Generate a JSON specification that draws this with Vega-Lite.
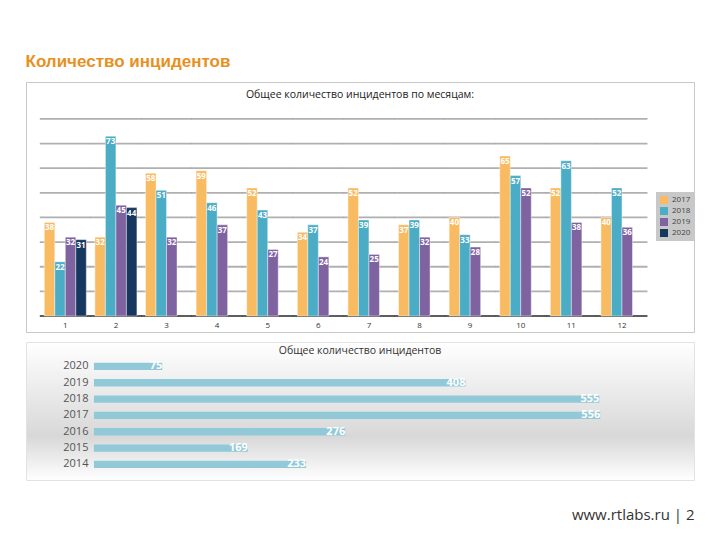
{
  "$schema": "https://vega.github.io/schema/vega-lite/v6.json",
  "background": "white",
  "padding": {"left": 25, "top": 52, "right": 20, "bottom": 5},
  "autosize": {"type": "pad"},
  "title": {"text": "Количество инцидентов", "anchor": "start", "frame": "bounds", "color": "#E8901E", "fontSize": 17, "fontWeight": "bold", "font": "Liberation Sans", "offset": 11},
  "config": {"font": "Open Sans", "view": {"stroke": "#C8C8C8"}},
  "spacing": 8,
  "datasets": {
    "monthly": [
      {"month": 1, "year": "2017", "value": 38}, {"month": 1, "year": "2018", "value": 22}, {"month": 1, "year": "2019", "value": 32}, {"month": 1, "year": "2020", "value": 31},
      {"month": 2, "year": "2017", "value": 32}, {"month": 2, "year": "2018", "value": 73}, {"month": 2, "year": "2019", "value": 45}, {"month": 2, "year": "2020", "value": 44},
      {"month": 3, "year": "2017", "value": 58}, {"month": 3, "year": "2018", "value": 51}, {"month": 3, "year": "2019", "value": 32},
      {"month": 4, "year": "2017", "value": 59}, {"month": 4, "year": "2018", "value": 46}, {"month": 4, "year": "2019", "value": 37},
      {"month": 5, "year": "2017", "value": 52}, {"month": 5, "year": "2018", "value": 43}, {"month": 5, "year": "2019", "value": 27},
      {"month": 6, "year": "2017", "value": 34}, {"month": 6, "year": "2018", "value": 37}, {"month": 6, "year": "2019", "value": 24},
      {"month": 7, "year": "2017", "value": 52}, {"month": 7, "year": "2018", "value": 39}, {"month": 7, "year": "2019", "value": 25},
      {"month": 8, "year": "2017", "value": 37}, {"month": 8, "year": "2018", "value": 39}, {"month": 8, "year": "2019", "value": 32},
      {"month": 9, "year": "2017", "value": 40}, {"month": 9, "year": "2018", "value": 33}, {"month": 9, "year": "2019", "value": 28},
      {"month": 10, "year": "2017", "value": 65}, {"month": 10, "year": "2018", "value": 57}, {"month": 10, "year": "2019", "value": 52},
      {"month": 11, "year": "2017", "value": 52}, {"month": 11, "year": "2018", "value": 63}, {"month": 11, "year": "2019", "value": 38},
      {"month": 12, "year": "2017", "value": 40}, {"month": 12, "year": "2018", "value": 52}, {"month": 12, "year": "2019", "value": 36}
    ],
    "months": [{"month": 1}, {"month": 2}, {"month": 3}, {"month": 4}, {"month": 5}, {"month": 6}, {"month": 7}, {"month": 8}, {"month": 9}, {"month": 10}, {"month": 11}, {"month": 12}],
    "grid": [
      {"g": 0, "month": [1, 2, 3, 4, 5, 6, 7, 8, 9, 10, 11, 12]},
      {"g": 10, "month": [1, 2, 3, 4, 5, 6, 7, 8, 9, 10, 11, 12]},
      {"g": 20, "month": [1, 2, 3, 4, 5, 6, 7, 8, 9, 10, 11, 12]},
      {"g": 30, "month": [1, 2, 3, 4, 5, 6, 7, 8, 9, 10, 11, 12]},
      {"g": 40, "month": [1, 2, 3, 4, 5, 6, 7, 8, 9, 10, 11, 12]},
      {"g": 50, "month": [1, 2, 3, 4, 5, 6, 7, 8, 9, 10, 11, 12]},
      {"g": 60, "month": [1, 2, 3, 4, 5, 6, 7, 8, 9, 10, 11, 12]},
      {"g": 70, "month": [1, 2, 3, 4, 5, 6, 7, 8, 9, 10, 11, 12]},
      {"g": 80, "month": [1, 2, 3, 4, 5, 6, 7, 8, 9, 10, 11, 12]}
    ],
    "totals": [
      {"year": "2020", "total": 75}, {"year": "2019", "total": 408}, {"year": "2018", "total": 555}, {"year": "2017", "total": 556},
      {"year": "2016", "total": 276}, {"year": "2015", "total": 169}, {"year": "2014", "total": 233}
    ]
  },
  "vconcat": [
    {
      "width": 668,
      "height": 250,
      "title": {"text": "Общее количество инцидентов по месяцам:", "offset": -18, "fontSize": 10.5, "fontWeight": "normal", "color": "#222", "anchor": "middle", "font": "Open Sans"},
      "layer": [
        {
          "data": {"name": "grid"},
          "transform": [{"flatten": ["month"]}],
          "mark": {"type": "tick", "orient": "horizontal", "size": 51, "thickness": 1.8},
          "encoding": {
            "x": {"field": "month", "type": "ordinal", "scale": {"paddingInner": 0.17, "paddingOuter": 0.685, "align": 0.264}, "axis": null},
            "y": {"field": "g", "type": "quantitative", "scale": {"domain": [-6.5, 95], "nice": false, "zero": false}, "axis": null},
            "color": {"condition": {"test": "datum.g === 0", "value": "#1A1A1A"}, "value": "#8E8E8E"}
          }
        },
        {
          "data": {"name": "monthly"},
          "mark": {"type": "bar", "stroke": "#FFFFFF", "strokeWidth": 0.6, "strokeOpacity": 0.7},
          "encoding": {
            "x": {"field": "month", "type": "ordinal"},
            "xOffset": {"field": "year", "type": "nominal", "scale": {"domain": ["2017", "2018", "2019", "2020"], "paddingInner": 0, "paddingOuter": 0}},
            "y": {"field": "value", "type": "quantitative"},
            "y2": {"datum": 0},
            "color": {"field": "year", "type": "nominal",
              "scale": {"domain": ["2017", "2018", "2019", "2020"], "range": ["#F8BB62", "#4BACC6", "#7F63A1", "#17375E"]},
              "legend": {"orient": "none", "legendX": 630, "legendY": 110, "title": null, "fillColor": "#C8C8C8", "padding": 4, "symbolType": "square", "symbolSize": 64, "symbolStrokeWidth": 0, "labelFontSize": 8, "labelColor": "#444", "rowPadding": 3, "labelFont": "Open Sans"}
            }
          }
        },
        {
          "data": {"name": "monthly"},
          "mark": {"type": "text", "baseline": "top", "dy": 2, "color": "white", "fontSize": 8, "fontWeight": "bold"},
          "encoding": {
            "x": {"field": "month", "type": "ordinal"},
            "xOffset": {"field": "year", "type": "nominal"},
            "y": {"field": "value", "type": "quantitative"},
            "text": {"field": "value"}
          }
        },
        {
          "data": {"name": "months"},
          "mark": {"type": "text", "baseline": "middle", "color": "#333", "fontSize": 8},
          "encoding": {
            "x": {"field": "month", "type": "ordinal"},
            "y": {"datum": -4},
            "text": {"field": "month"}
          }
        }
      ]
    },
    {
      "width": 668,
      "height": 138,
      "view": {"fill": {"gradient": "linear", "x1": 0, "y1": 0, "x2": 0, "y2": 1, "stops": [{"offset": 0, "color": "#FFFFFF"}, {"offset": 0.68, "color": "#D8D8D8"}, {"offset": 1, "color": "#FFFFFF"}]}, "stroke": "#E2E2E2"},
      "title": {"text": "Общее количество инцидентов", "offset": -14, "fontSize": 10.5, "fontWeight": "normal", "color": "#333", "anchor": "middle", "font": "Open Sans"},
      "data": {"name": "totals"},
      "encoding": {
        "y": {"field": "year", "type": "ordinal", "sort": "descending", "scale": {"paddingInner": 0.55, "paddingOuter": 1.95, "align": 0.635}, "axis": null}
      },
      "layer": [
        {
          "mark": {"type": "bar", "color": "#92C9D9"},
          "encoding": {
            "x": {"field": "total", "type": "quantitative", "scale": {"domain": [-74.6, 659], "nice": false, "zero": false},
              "axis": {"orient": "bottom", "domain": false, "ticks": false, "labels": false, "grid": false, "title": "www.rtlabs.ru | 2", "titleAnchor": "end", "titleFontSize": 15, "titleColor": "#333", "titleFontWeight": "normal", "titlePadding": 27, "titleFont": "Open Sans", "offset": 0}},
            "x2": {"datum": 0}
          }
        },
        {
          "mark": {"type": "text", "align": "right", "baseline": "middle", "color": "white", "fontSize": 11, "fontWeight": "bold"},
          "encoding": {
            "x": {"field": "total", "type": "quantitative"},
            "text": {"field": "total"}
          }
        },
        {
          "mark": {"type": "text", "align": "right", "baseline": "middle", "color": "#555", "fontSize": 11},
          "encoding": {
            "x": {"datum": -6},
            "text": {"field": "year"}
          }
        }
      ]
    }
  ]
}
